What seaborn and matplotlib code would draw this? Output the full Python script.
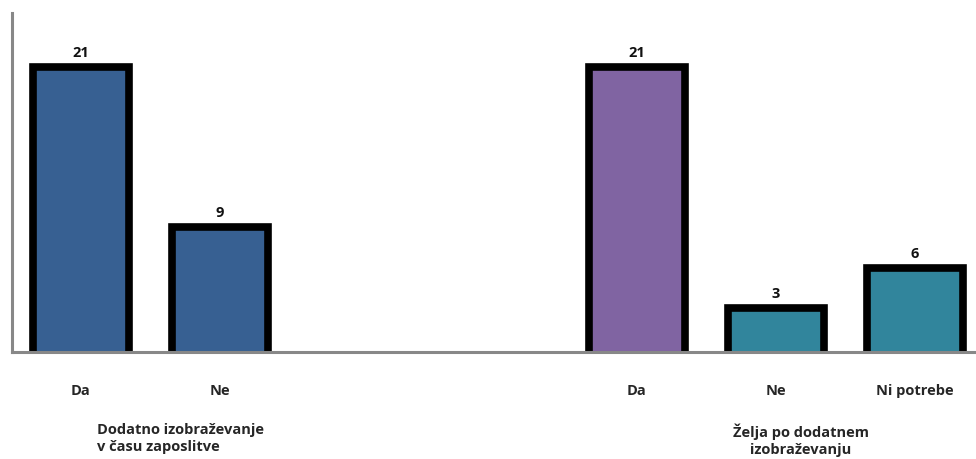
import matplotlib
matplotlib.use("Agg")
import matplotlib.pyplot as plt
import seaborn as sns
import pandas as pd

# slots along the axis, two empty slots between the two questions
slots = ["d1", "n1", "gap1", "gap2", "d2", "n2", "np2"]
slot_labels = ["Da", "Ne", "", "", "Da", "Ne", "Ni potrebe"]
values = [21, 9, None, None, 21, 3, 6]
colors = ["#376092", "#376092", "#376092", "#376092", "#8064A2", "#31859C", "#31859C"]

group_1 = "Dodatno izobraževanje\nv času zaposlitve"
group_2 = "Želja po dodatnem\nizobraževanju"

df = pd.DataFrame({"slot": slots, "value": values})

sns.set_style("white")
plt.rcParams["font.family"] = ["Open Sans", "DejaVu Sans"]

fig = plt.figure(figsize=(9.76, 4.59), dpi=100)
ax = fig.add_axes([11.5 / 976, 1 - 352 / 459, 973 / 976, 339 / 459])

sns.barplot(data=df, x="slot", y="value", hue="slot", order=slots,
            palette=dict(zip(slots, colors)), legend=False, width=0.69,
            saturation=1, edgecolor="black", linewidth=5.5, ax=ax)

# push the bar bottoms below the axis so no black bottom edge shows
for p in ax.patches:
    p.set_y(-1)
    p.set_height(p.get_height() + 1)

for c in ax.containers:
    ax.bar_label(c, labels=[f"{v:.0f}" if v == v else "" for v in c.datavalues],
                 padding=5, fontsize=10.5, fontweight="bold", color="#111111")

ax.set_ylim(-0.3, 25)
ax.set_xlim(-0.5, 6.5)
ax.set_xticks(range(len(slots)))
ax.set_xticklabels(slot_labels, fontsize=10.5, fontweight="bold")
ax.tick_params(axis="x", length=0, pad=23)
ax.set_yticks([])
ax.set_xlabel("")
ax.set_ylabel("")

for side in ["top", "right"]:
    ax.spines[side].set_visible(False)
for side in ["left", "bottom"]:
    ax.spines[side].set_color("#888888")
    ax.spines[side].set_linewidth(2.2)
    ax.spines[side].set_zorder(5)

fig.text(97 / 976, 1 - 423 / 459, group_1, ha="left", va="top",
         fontsize=10.5, fontweight="bold", linespacing=1.3)
fig.text(801 / 976, 1 - 423 / 459, group_2, ha="center", va="top",
         fontsize=10.5, fontweight="bold", linespacing=1.3)

fig.savefig("out.png", dpi=100)
